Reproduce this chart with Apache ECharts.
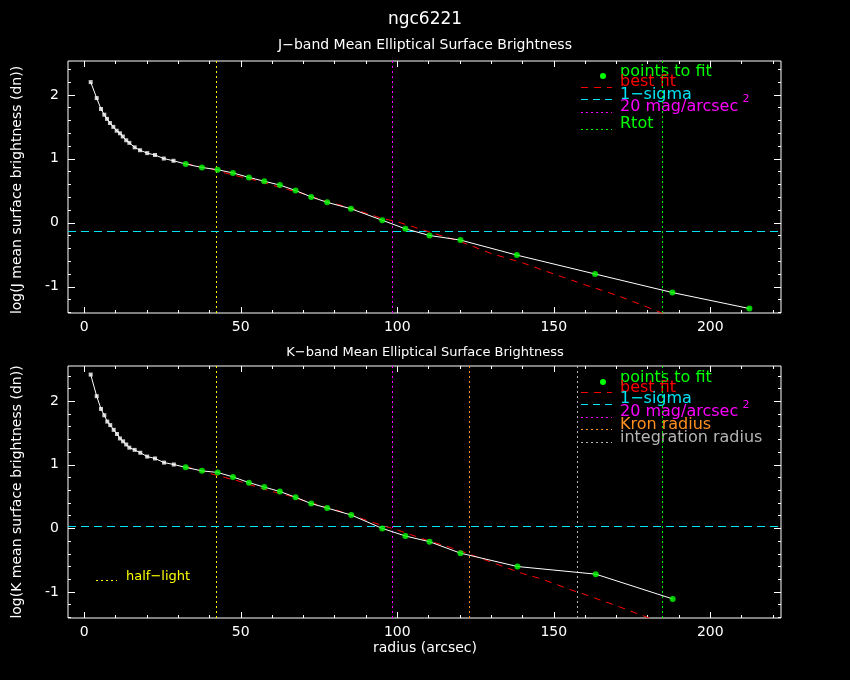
<!DOCTYPE html>
<html lang="en">

<head>
    <meta charset="utf-8" />
    <title>ngc6221</title>
    <script src="https://cdn.jsdelivr.net/npm/echarts@6/dist/echarts.min.js"></script>
    <style>
        html,
        body {
            margin: 0;
            padding: 0;
            background: #000;
        }

        #chart {
            width: 850px;
            height: 680px;
        }
    </style>
</head>

<body>
    <div id="chart"></div>

    <script>
        // J band profile (radius in arcsec, log mean surface brightness)
        var jRadius = [2.05, 3.97, 5.34, 6.4, 7.26, 8.2, 9.28, 10.35, 11.4, 12.3, 13.4, 14.4, 16.1, 17.8, 20.1, 22.6, 25.4, 28.5,
            32.4, 37.6, 42.6, 47.5, 52.6, 57.5, 62.5, 67.5, 72.5, 77.6, 85.2, 95.2, 102.6, 110.3, 120.2, 138.2, 163.2, 187.9, 212.5];
        var jBright = [2.20, 1.95, 1.78, 1.69, 1.625, 1.56, 1.50, 1.44, 1.40, 1.35, 1.29, 1.25, 1.18, 1.135, 1.09, 1.06, 1.005, 0.97,
            0.92, 0.865, 0.83, 0.78, 0.71, 0.65, 0.59, 0.505, 0.405, 0.32, 0.22, 0.04, -0.094, -0.198, -0.27, -0.505, -0.80, -1.09, -1.34];
        var jFitFrom = 18; // index of first point used in the fit

        // J band best fit
        var jFitX = [32.4, 40, 45, 50, 55, 60, 65, 70, 75, 80, 85, 90, 95, 100, 105, 110, 115, 120, 130, 140, 150, 160, 170, 180, 186];
        var jFitY = [0.925, 0.85, 0.78, 0.72, 0.66, 0.59, 0.52, 0.455, 0.37, 0.30, 0.235, 0.15, 0.07, 0.016, -0.06, -0.14, -0.215, -0.29,
            -0.48, -0.625, -0.80, -0.97, -1.13, -1.32, -1.44];

        // K band profile
        var kRadius = [2.05, 3.97, 5.34, 6.4, 7.36, 8.3, 9.4, 10.46, 11.4, 12.4, 13.4, 14.4, 16.1, 17.9, 20.1, 22.6, 25.5, 28.6,
            32.4, 37.6, 42.6, 47.5, 52.6, 57.5, 62.5, 67.5, 72.5, 77.6, 85.3, 95.2, 102.6, 110.3, 120.2, 138.4, 163.4, 188.0];
        var kBright = [2.42, 2.08, 1.88, 1.78, 1.68, 1.625, 1.55, 1.485, 1.415, 1.37, 1.32, 1.27, 1.235, 1.19, 1.13, 1.10, 1.035, 1.005,
            0.96, 0.905, 0.88, 0.81, 0.72, 0.65, 0.58, 0.49, 0.39, 0.32, 0.21, 0.0, -0.12, -0.21, -0.39, -0.60, -0.72, -1.11];
        var kFitFrom = 18;

        // K band best fit
        var kFitX = [32.4, 35, 40, 45, 50, 55, 60, 65, 70, 75, 80, 85, 90, 95, 100, 105, 110, 115, 120, 125, 130, 135, 140, 145, 150,
            155, 160, 165, 170, 175, 181];
        var kFitY = [0.97, 0.935, 0.865, 0.80, 0.735, 0.655, 0.58, 0.52, 0.44, 0.365, 0.295, 0.22, 0.13, 0.05, -0.025, -0.11, -0.195,
            -0.27, -0.35, -0.44, -0.53, -0.62, -0.71, -0.78, -0.865, -0.96, -1.04, -1.13, -1.215, -1.31, -1.42];

        // reference radii / levels
        var halfLight = 42.24;
        var mag20J = 98.47;
        var rtotJ = 184.74;
        var sigmaJ = -0.125;
        var mag20K = 98.47;
        var kronK = 123.08;
        var integK = 157.58;
        var rtotK = 184.74;
        var sigmaK = 0.045;

        // tick values
        var xTicks = [0, 50, 100, 150, 200];
        var xMinorTicks = [0, 10, 20, 30, 40, 50, 60, 70, 80, 90, 100, 110, 120, 130, 140, 150, 160, 170, 180, 190, 200, 210, 220];
        var yTicks = [-1, 0, 1, 2];
        var yMinorTicks = [-1.4, -1.2, -1, -0.8, -0.6, -0.4, -0.2, 0, 0.2, 0.4, 0.6, 0.8, 1, 1.2, 1.4, 1.6, 1.8, 2, 2.2, 2.4];

        var FONT = '"DejaVu Sans", sans-serif';
        var GREEN = '#00ff00';
        var CYAN = '#00e5f5';

        function pairs(xs, ys) {
            var out = [];
            for (var i = 0; i < xs.length; i++) {
                out.push([xs[i], ys[i]]);
            }
            return out;
        }

        // four x axes per grid: major/minor ticks at bottom and top
        function makeXAxes(grid, showLabels) {
            var base = {
                type: 'value', gridIndex: grid, min: -5.2, max: 222.6,
                axisLine: { show: false, onZero: false }, splitLine: { show: false }
            };
            var list = [];
            var defs = [
                { pos: 'bottom', ticks: xTicks, len: 6, label: showLabels },
                { pos: 'bottom', ticks: xMinorTicks, len: 3, label: false },
                { pos: 'top', ticks: xTicks, len: 6, label: false },
                { pos: 'top', ticks: xMinorTicks, len: 3, label: false }
            ];
            defs.forEach(function (d) {
                list.push(Object.assign({}, base, {
                    position: d.pos,
                    axisTick: { show: true, inside: true, length: d.len, customValues: d.ticks, lineStyle: { color: '#fff', width: 1 } },
                    axisLabel: { show: d.label, customValues: xTicks, color: '#fff', fontSize: 14, margin: 7, fontFamily: FONT }
                }));
            });
            return list;
        }

        function makeYAxes(grid, yMin, yMax) {
            var base = {
                type: 'value', gridIndex: grid, min: yMin, max: yMax,
                axisLine: { show: false, onZero: false }, splitLine: { show: false }
            };
            var list = [];
            var defs = [
                { pos: 'left', ticks: yTicks, len: 7, label: true },
                { pos: 'left', ticks: yMinorTicks, len: 3, label: false },
                { pos: 'right', ticks: yTicks, len: 7, label: false },
                { pos: 'right', ticks: yMinorTicks, len: 3, label: false }
            ];
            defs.forEach(function (d) {
                list.push(Object.assign({}, base, {
                    position: d.pos,
                    axisTick: { show: true, inside: true, length: d.len, customValues: d.ticks, lineStyle: { color: '#fff', width: 1 } },
                    axisLabel: { show: d.label, customValues: yTicks, color: '#fff', fontSize: 14, margin: 9, fontFamily: FONT }
                }));
            });
            return list;
        }

        function vLine(x, color) {
            return { xAxis: x, lineStyle: { color: color, type: [2, 3], width: 1 } };
        }

        // all series of one panel
        function panelSeries(axisIdx, radius, bright, fitFrom, fitX, fitY, marks) {
            var pts = pairs(radius, bright);
            return [
                {
                    type: 'line', xAxisIndex: axisIdx, yAxisIndex: axisIdx, data: pts,
                    symbol: 'none', lineStyle: { color: '#fff', width: 1 }, z: 3,
                    markLine: { silent: true, symbol: ['none', 'none'], label: { show: false }, data: marks, z: 1 }
                },
                {
                    type: 'line', xAxisIndex: axisIdx, yAxisIndex: axisIdx, data: pairs(fitX, fitY),
                    symbol: 'none', lineStyle: { color: '#ff0000', width: 1, type: [7, 6] }, z: 2
                },
                {
                    type: 'scatter', xAxisIndex: axisIdx, yAxisIndex: axisIdx, data: pts.slice(0, fitFrom),
                    symbol: 'rect', symbolSize: 4, itemStyle: { color: '#fff' }, z: 4
                },
                {
                    type: 'scatter', xAxisIndex: axisIdx, yAxisIndex: axisIdx, data: pts.slice(fitFrom),
                    symbol: 'circle', symbolSize: 6, itemStyle: { color: GREEN }, z: 5
                }
            ];
        }

        function txt(x, y, s, color, size, align, rot) {
            return {
                type: 'text', x: x, y: y, rotation: rot || 0, silent: true,
                style: {
                    text: s, fill: color, font: size + 'px ' + FONT,
                    textAlign: align || 'center', textVerticalAlign: 'middle',
                    align: align || 'center', verticalAlign: 'middle'
                }
            };
        }

        function seg(x1, y, x2, color, dash) {
            return {
                type: 'line', silent: true,
                shape: { x1: x1, y1: y, x2: x2, y2: y },
                style: { stroke: color, lineWidth: 1, lineDash: dash }
            };
        }

        var graphics = [
            txt(425, 20, 'ngc6221', '#fff', 17),
            txt(425, 45, 'J\u2212band Mean Elliptical Surface Brightness', '#fff', 14),
            txt(425, 353, 'K\u2212band Mean Elliptical Surface Brightness', '#fff', 13),
            txt(425, 648, 'radius (arcsec)', '#fff', 14),
            txt(17, 190, 'log(J mean surface brightness (dn))', '#fff', 14, 'center', Math.PI / 2),
            txt(17, 492, 'log(K mean surface brightness (dn))', '#fff', 14, 'center', Math.PI / 2),

            // top legend
            { type: 'circle', silent: true, shape: { cx: 603, cy: 76, r: 3 }, style: { fill: GREEN } },
            txt(620, 72, 'points to fit', GREEN, 16, 'left'),
            seg(581, 87.5, 612, '#ff0000', [7, 6]),
            txt(620, 82, 'best fit', '#ff0000', 16, 'left'),
            seg(581, 99.5, 612, CYAN, [7, 5]),
            txt(620, 95, '1\u2212sigma', CYAN, 16, 'left'),
            seg(581, 112.5, 612, '#ff00ff', [2, 3]),
            txt(620, 107, '20 mag/arcsec', '#ff00ff', 16, 'left'),
            txt(746, 99, '2', '#ff00ff', 11),
            seg(581, 129.5, 612, GREEN, [2, 3]),
            txt(620, 124, 'Rtot', GREEN, 16, 'left'),

            // bottom legend
            { type: 'circle', silent: true, shape: { cx: 603, cy: 382, r: 3 }, style: { fill: GREEN } },
            txt(620, 378, 'points to fit', GREEN, 16, 'left'),
            seg(581, 392.5, 612, '#ff0000', [7, 6]),
            txt(620, 388, 'best fit', '#ff0000', 16, 'left'),
            seg(581, 404.5, 612, CYAN, [7, 5]),
            txt(620, 399, '1\u2212sigma', CYAN, 16, 'left'),
            seg(581, 417.5, 612, '#ff00ff', [2, 3]),
            txt(620, 412, '20 mag/arcsec', '#ff00ff', 16, 'left'),
            txt(746, 405, '2', '#ff00ff', 11),
            seg(581, 429.5, 612, '#ff9020', [2, 3]),
            txt(620, 425, 'Kron radius', '#ff9020', 16, 'left'),
            seg(581, 442.5, 612, '#b4b4b4', [2, 3]),
            txt(620, 438, 'integration radius', '#b4b4b4', 16, 'left'),

            // half-light label
            seg(96, 580.5, 117, '#ffff00', [2, 3]),
            txt(126, 577, 'half\u2212light', '#ffff00', 13, 'left')
        ];

        var option = {
            backgroundColor: '#000',
            animation: false,
            grid: [
                { left: 68, top: 61, width: 713, height: 252, show: true, borderColor: '#fff', borderWidth: 1, containLabel: false },
                { left: 68, top: 366, width: 713, height: 252, show: true, borderColor: '#fff', borderWidth: 1, containLabel: false }
            ],
            xAxis: makeXAxes(0, true).concat(makeXAxes(1, true)),
            yAxis: makeYAxes(0, -1.41, 2.53).concat(makeYAxes(1, -1.41, 2.555)),
            series: panelSeries(0, jRadius, jBright, jFitFrom, jFitX, jFitY, [
                vLine(halfLight, '#ffff00'),
                vLine(mag20J, '#ff00ff'),
                vLine(rtotJ, GREEN),
                { yAxis: sigmaJ, lineStyle: { color: CYAN, type: [8, 5], width: 1 } }
            ]).concat(panelSeries(4, kRadius, kBright, kFitFrom, kFitX, kFitY, [
                vLine(halfLight, '#ffff00'),
                vLine(mag20K, '#ff00ff'),
                vLine(kronK, '#ff9020'),
                vLine(integK, '#b4b4b4'),
                vLine(rtotK, GREEN),
                { yAxis: sigmaK, lineStyle: { color: CYAN, type: [8, 5], width: 1 } }
            ])),
            graphic: graphics
        };

        var myChart = echarts.init(document.getElementById('chart'));
        myChart.setOption(option);
    </script>
</body>

</html>
